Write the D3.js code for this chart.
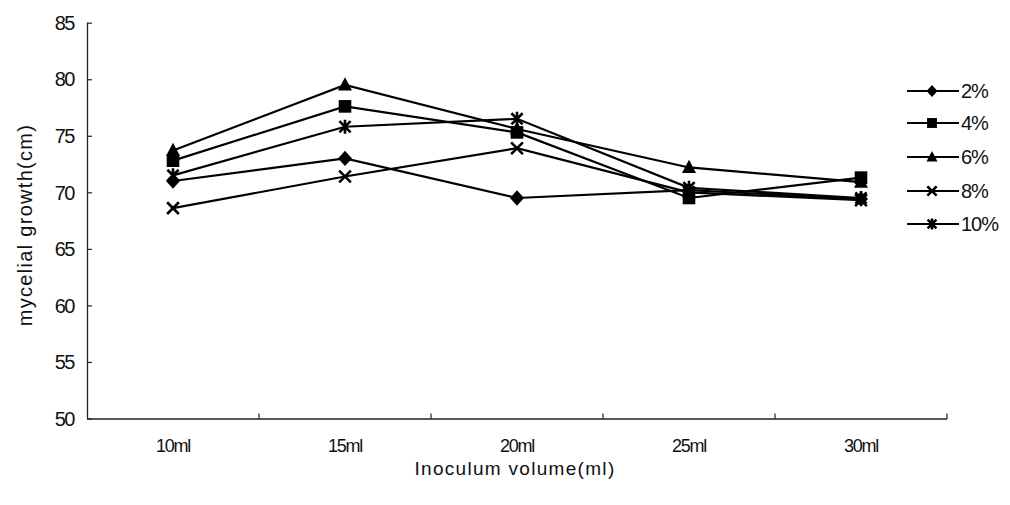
<!DOCTYPE html>
<html>
<head>
<meta charset="utf-8">
<script src="https://cdn.jsdelivr.net/npm/d3@7/dist/d3.min.js"></script>
<style>
  html, body { margin: 0; padding: 0; background: #fff; }
  svg { display: block; }
  text { font-family: "Liberation Sans", Arial, sans-serif; fill: #111; }
</style>
</head>
<body>
<svg id="chart" width="1010" height="505"></svg>
<script>
// Inoculum volumes on the x axis
const categories = ["10ml", "15ml", "20ml", "25ml", "30ml"];

// Mycelial growth (cm) for each spawn ratio
const seriesNames = ["2%", "4%", "6%", "8%", "10%"];
const growth2 = [71.0, 73.0, 69.5, 70.2, 69.4];
const growth4 = [72.8, 77.6, 75.3, 69.5, 71.3];
const growth6 = [73.7, 79.5, 75.6, 72.2, 70.9];
const growth8 = [68.6, 71.4, 73.9, 70.0, 69.3];
const growth10 = [71.5, 75.8, 76.5, 70.4, 69.5];

const yTicks = [50, 55, 60, 65, 70, 75, 80, 85];
const markerKinds = ["diamond", "square", "triangle", "x", "asterisk"];

const seriesData = [growth2, growth4, growth6, growth8, growth10].map((vals, i) => ({
  name: seriesNames[i],
  marker: markerKinds[i],
  values: vals
}));

const svg = d3.select("#chart");
const plotLeft = 87, plotRight = 947, plotTop = 22.7, plotBottom = 418.5;

const x = d3.scaleBand().domain(categories).range([plotLeft, plotRight]).padding(0);
const y = d3.scaleLinear().domain([50, 85]).range([plotBottom, plotTop]);

// Y axis: ticks pointing into the plot
const yAxis = svg.append("g").attr("transform", `translate(${plotLeft},0)`)
  .call(d3.axisRight(y).tickValues(yTicks).tickSize(5).tickFormat(""));
yAxis.select(".domain").attr("d", `M0.5,${plotTop}V${plotBottom}`).attr("stroke", "#222").attr("stroke-width", 1.3);
yAxis.selectAll(".tick line").attr("stroke", "#222").attr("stroke-width", 1.2);

svg.append("g").selectAll("text").data(yTicks).join("text")
  .attr("x", 74).attr("y", d => y(d)).attr("dy", "0.36em")
  .attr("text-anchor", "end").attr("font-size", 20).attr("letter-spacing", -1.5)
  .text(d => d);

// X axis: boundary ticks between categories, pointing up
const xBounds = categories.map(c => x(c) + x.bandwidth());
const xAxis = svg.append("g").attr("transform", `translate(0,${plotBottom})`);
xAxis.append("line").attr("x1", plotLeft).attr("x2", plotRight).attr("y1", 0.5).attr("y2", 0.5)
  .attr("stroke", "#222").attr("stroke-width", 1.3);
xAxis.selectAll("line.tk").data(xBounds).join("line").attr("class", "tk")
  .attr("x1", d => d).attr("x2", d => d).attr("y1", 0.5).attr("y2", -5)
  .attr("stroke", "#222").attr("stroke-width", 1.2);

svg.append("g").selectAll("text").data(categories).join("text")
  .attr("x", d => x(d) + x.bandwidth() / 2).attr("y", 446).attr("dy", "0.36em")
  .attr("text-anchor", "middle").attr("font-size", 18).attr("letter-spacing", -1.2)
  .text(d => d);

// Axis titles
svg.append("text").attr("x", 515).attr("y", 468).attr("dy", "0.36em")
  .attr("text-anchor", "middle").attr("font-size", 19).attr("letter-spacing", 1.3)
  .text("Inoculum volume(ml)");
svg.append("text").attr("transform", "translate(25,225) rotate(-90)").attr("dy", "0.36em")
  .attr("text-anchor", "middle").attr("font-size", 20).attr("letter-spacing", 1.3)
  .text("mycelial growth(cm)");

// Marker drawing
function drawMarker(g, kind, s) {
  if (kind === "diamond") {
    g.append("path").attr("d", `M0,${-s*0.55}L${s*0.5},0L0,${s*0.55}L${-s*0.5},0Z`).attr("fill", "#000");
  } else if (kind === "square") {
    g.append("rect").attr("x", -s*0.45).attr("y", -s*0.45).attr("width", s*0.9).attr("height", s*0.9).attr("fill", "#000");
  } else if (kind === "triangle") {
    g.append("path").attr("d", `M0,${-s*0.55}L${s*0.5},${s*0.4}L${-s*0.5},${s*0.4}Z`).attr("fill", "#000");
  } else if (kind === "x") {
    const h = s * 0.42;
    g.append("path").attr("d", `M${-h},${-h}L${h},${h}M${-h},${h}L${h},${-h}`)
      .attr("stroke", "#000").attr("stroke-width", 2.6).attr("fill", "none");
  } else if (kind === "asterisk") {
    const h = s * 0.4;
    g.append("path").attr("d", `M${-h},${-h}L${h},${h}M${-h},${h}L${h},${-h}M0,${-h*1.25}V${h*1.25}`)
      .attr("stroke", "#000").attr("stroke-width", 2.6).attr("fill", "none");
  }
}

const line = d3.line()
  .x((d, i) => x(categories[i]) + x.bandwidth() / 2)
  .y(d => y(d));

const plot = svg.append("g");
seriesData.forEach(s => {
  plot.append("path").datum(s.values).attr("d", line)
    .attr("fill", "none").attr("stroke", "#000").attr("stroke-width", 2.2);
});
seriesData.forEach(s => {
  s.values.forEach((v, i) => {
    const g = plot.append("g")
      .attr("transform", `translate(${x(categories[i]) + x.bandwidth() / 2},${y(v)})`);
    drawMarker(g, s.marker, 14);
  });
});

// Legend
const legendY = [91, 123, 157, 191, 224];
const legend = svg.append("g");
seriesData.forEach((s, i) => {
  const g = legend.append("g").attr("transform", `translate(0,${legendY[i]})`);
  g.append("line").attr("x1", 907).attr("x2", 959).attr("y1", 0).attr("y2", 0)
    .attr("stroke", "#000").attr("stroke-width", 1.8);
  drawMarker(g.append("g").attr("transform", "translate(932,0)"), s.marker, 11);
  g.append("text").attr("x", 961).attr("y", 0).attr("dy", "0.36em")
    .attr("font-size", 20).attr("letter-spacing", -1).text(s.name);
});
</script>
</body>
</html>
